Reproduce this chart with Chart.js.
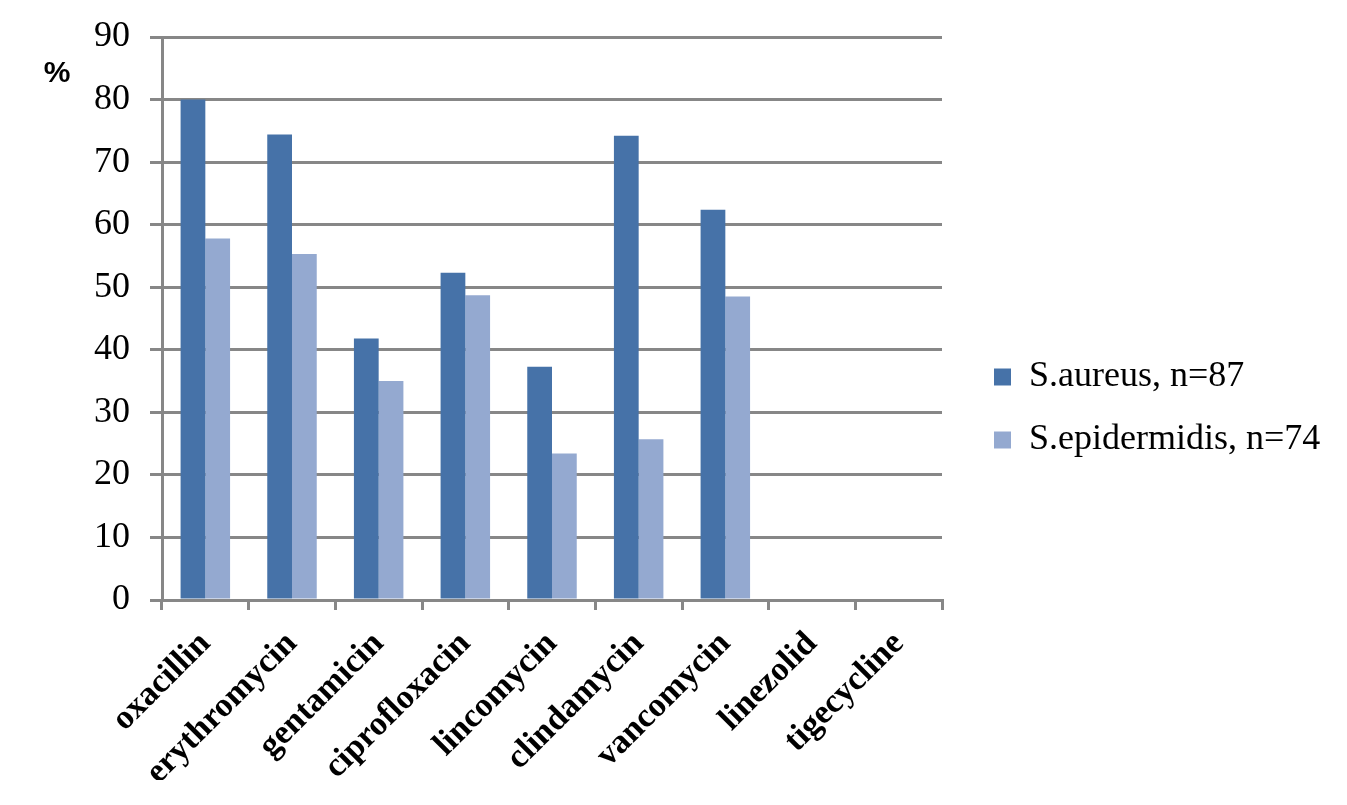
<!DOCTYPE html>
<html>
<head>
<meta charset="utf-8">
<script src="https://cdn.jsdelivr.net/npm/chart.js@4.4.1/dist/chart.umd.min.js"></script>
<style>
    html, body {margin: 0; padding: 0; background: #fff;}
    #wrap {width: 1347px; height: 805px;}
</style>
</head>
<body>
<div id="wrap"><canvas id="myChart"></canvas></div>
<script>
// data (%)
const categories = ["oxacillin", "erythromycin", "gentamicin", "ciprofloxacin", "lincomycin",
    "clindamycin", "vancomycin", "linezolid", "tigecycline"];
const aureusValues = [80.0, 74.4, 41.8, 52.3, 37.3, 74.2, 62.4, 0, 0];
const epidermidisValues = [57.8, 55.3, 35.0, 48.7, 23.4, 25.7, 48.5, 0, 0];
const seriesNames = ["S.aureus, n=87", "S.epidermidis, n=74"];
const yTicks = [0, 10, 20, 30, 40, 50, 60, 70, 80, 90];

const SERIF = '"Times New Roman", "Liberation Serif", serif';
const GRID = "#878787";

// wider legend box so the items sit a bit away from the plot
const legendWidth = {
    id: "legendWidth",
    afterInit(chart) {
        const lg = chart.legend;
        const fit = lg.fit.bind(lg);
        lg.fit = function () {
            fit();
            this.width = 380;
        };
    }
};

// the little "%" in the top left corner
const percentLabel = {
    id: "percentLabel",
    afterDraw(chart) {
        const ctx = chart.ctx;
        ctx.save();
        ctx.font = 'bold 30px "Liberation Sans", Arial, sans-serif';
        ctx.fillStyle = "#000";
        ctx.textAlign = "center";
        ctx.textBaseline = "middle";
        ctx.fillText("%", 57, 74);
        ctx.restore();
    }
};

const ctx = document.getElementById("myChart").getContext("2d");
new Chart(ctx, {
    type: "bar",
    data: {
        labels: categories,
        datasets: [
            {
                label: seriesNames[0],
                data: aureusValues,
                backgroundColor: "#4672A8",
                borderWidth: 0,
                categoryPercentage: 0.571,
                barPercentage: 1.0
            },
            {
                label: seriesNames[1],
                data: epidermidisValues,
                backgroundColor: "#94A9D0",
                borderWidth: 0,
                categoryPercentage: 0.571,
                barPercentage: 1.0
            }
        ]
    },
    options: {
        responsive: true,
        maintainAspectRatio: false,
        animation: false,
        layout: {padding: {top: 37, left: 0, right: 0, bottom: 25}},
        plugins: {
            legend: {
                position: "right",
                align: "center",
                labels: {
                    color: "#000",
                    font: {family: SERIF, size: 36},
                    boxWidth: 17,
                    boxHeight: 17,
                    padding: 27
                }
            },
            tooltip: {enabled: false}
        },
        scales: {
            x: {
                grid: {
                    display: true,
                    drawOnChartArea: false,
                    color: GRID,
                    lineWidth: 3,
                    tickLength: 10,
                    offset: true
                },
                border: {color: GRID, width: 3},
                ticks: {
                    color: "#000",
                    font: {family: SERIF, size: 34, weight: "bold"},
                    minRotation: 45,
                    maxRotation: 45,
                    padding: 14
                },
                afterFit(scale) {
                    scale.height = 180;
                }
            },
            y: {
                min: 0,
                max: 90,
                grid: {color: GRID, lineWidth: 3, tickLength: 12},
                border: {color: GRID, width: 3},
                ticks: {
                    stepSize: 10,
                    color: "#000",
                    font: {family: SERIF, size: 36},
                    padding: 20,
                    callback: (v) => yTicks.includes(v) ? String(v) : ""
                },
                afterFit(scale) {
                    scale.width = 162;
                    // label padding should not push the plot down
                    scale.paddingTop = 10;
                    scale.paddingBottom = 10;
                }
            },
            spacer: {
                position: "right",
                display: true,
                grid: {display: false, drawTicks: false},
                border: {display: false},
                ticks: {display: false},
                afterFit(scale) {
                    scale.width = 25;
                }
            }
        }
    },
    plugins: [legendWidth, percentLabel]
});
</script>
</body>
</html>
